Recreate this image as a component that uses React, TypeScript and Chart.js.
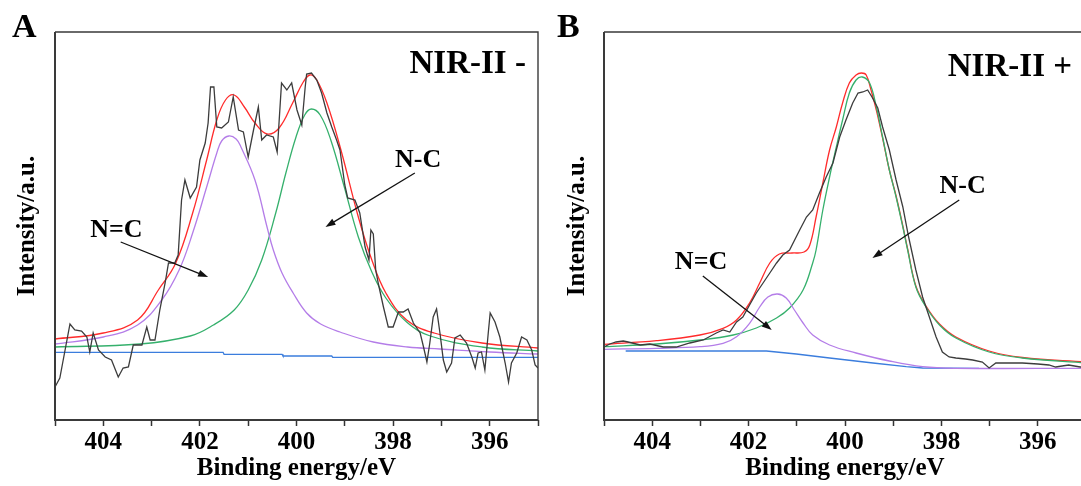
import React, { useEffect, useRef } from 'react';
import { Chart, registerables } from 'chart.js';

Chart.register(...registerables);

const FONT = "'Liberation Serif', 'Times New Roman', serif";

// ---------- Axis ----------
const X_MIN = 395;
const X_MAX = 405;
const Y_MIN = 0;
const Y_MAX = 388;
const X_TITLE = 'Binding energy/eV';
const Y_TITLE = 'Intensity/a.u.';
const TICK_LABELS = [404, 402, 400, 398, 396];

// ---------- Panel A : NIR-II - ----------
const A_RAW_E = [405.0, 404.9, 404.83, 404.69, 404.59, 404.45, 404.34, 404.28, 404.21, 404.1, 403.96, 403.83, 403.69, 403.59, 403.48, 403.38, 403.2, 403.1, 403.03, 402.93, 402.83, 402.72, 402.65, 402.52, 402.45, 402.38, 402.31, 402.2, 402.07, 402.0, 401.89, 401.83, 401.78, 401.71, 401.65, 401.55, 401.41, 401.31, 401.2, 401.1, 401.0, 400.89, 400.79, 400.72, 400.62, 400.48, 400.4, 400.31, 400.2, 400.1, 399.99, 399.89, 399.82, 399.79, 399.69, 399.58, 399.48, 399.37, 399.27, 399.17, 399.1, 399.0, 398.94, 398.79, 398.69, 398.58, 398.5, 398.46, 398.41, 398.36, 398.3, 398.2, 398.1, 398.0, 397.89, 397.79, 397.69, 397.58, 397.44, 397.37, 397.3, 397.24, 397.17, 397.1, 397.03, 396.96, 396.89, 396.79, 396.72, 396.61, 396.48, 396.37, 396.3, 396.24, 396.17, 396.1, 396.03, 395.99, 395.89, 395.79, 395.68, 395.61, 395.55, 395.44, 395.34, 395.23, 395.13, 395.06, 395.0];
const A_RAW_I = [33, 42, 60, 96, 90, 89, 83, 68, 87, 70, 63, 60, 43, 52, 53, 75, 75, 93, 80, 80, 110, 137, 157, 157, 165, 220, 240, 222, 233, 260, 277, 297, 333, 333, 293, 292, 298, 323, 290, 288, 263, 290, 313, 280, 285, 283, 268, 337, 330, 337, 310, 295, 333, 346, 347, 340, 327, 307, 293, 280, 270, 235, 222, 220, 207, 173, 160, 190, 186, 150, 135, 113, 93, 93, 108, 108, 111, 97, 87, 73, 58, 77, 103, 111, 87, 60, 48, 57, 82, 85, 77, 63, 52, 67, 68, 50, 87, 107, 98, 83, 57, 38, 57, 67, 83, 80, 70, 55, 52];

const A_ENV_E = [405, 404, 403.29, 402.86, 402.5, 402.15, 401.86, 401.65, 401.47, 401.29, 401.08, 400.86, 400.61, 400.36, 400.08, 399.86, 399.72, 399.58, 399.37, 399.08, 398.72, 398.44, 398.15, 397.72, 397.15, 396.16, 395];
const A_ENV_I = [81, 87, 100, 130, 157, 207, 260, 300, 320, 325, 313, 297, 286, 292, 317, 338, 345, 340, 317, 270, 203, 160, 127, 100, 87, 77, 72];

const A_NEQC_E = [405, 404, 403.29, 402.79, 402.43, 402.15, 401.86, 401.65, 401.55, 401.4, 401.25, 401.15, 400.86, 400.61, 400.48, 400.3, 400.07, 399.79, 399.5, 399.1, 398.41, 397.7, 397.03, 396, 395];
const A_NEQC_I = [76, 83, 95, 120, 150, 187, 233, 267, 279, 284, 281, 273, 240, 193, 170, 147, 127, 107, 96, 88, 78, 73, 71, 68, 66];

const A_NC_E = [405, 403.24, 402.2, 401.72, 401.29, 401.0, 400.72, 400.43, 400.22, 400.01, 399.83, 399.69, 399.51, 399.29, 399.01, 398.72, 398.44, 398.15, 397.72, 397.23, 396.16, 395];
const A_NC_I = [73, 76, 84, 95, 110, 130, 160, 207, 247, 283, 305, 311, 305, 280, 233, 183, 148, 122, 98, 84, 73, 69];

const A_BASE_E = [405, 401.52, 401.5, 400.3, 400.28, 399.27, 399.25, 395];
const A_BASE_I = [67.7, 67.7, 65.7, 65.7, 64, 64, 62.7, 62.7];

// ---------- Panel B : NIR-II + ----------
const B_RAW_E = [405.0, 404.88, 404.75, 404.6, 404.5, 404.25, 404.05, 403.77, 403.5, 403.22, 402.94, 402.67, 402.53, 402.39, 402.25, 402.12, 401.98, 401.84, 401.7, 401.56, 401.42, 401.29, 401.15, 400.94, 400.8, 400.67, 400.53, 400.39, 400.25, 400.11, 399.98, 399.84, 399.73, 399.63, 399.53, 399.44, 399.32, 399.22, 399.08, 398.94, 398.8, 398.68, 398.53, 398.39, 398.25, 398.11, 397.98, 397.84, 397.7, 397.5, 397.35, 397.15, 397.01, 396.87, 396.6, 396.32, 396.0, 395.77, 395.63, 395.36, 395.12, 395.0];
const B_RAW_I = [73, 76, 78, 79, 78, 75, 76, 73, 73, 77, 80, 87, 90, 88, 98, 103, 115, 127, 137, 147, 157, 165, 170, 190, 203, 210, 227, 243, 257, 283, 300, 317, 327, 328, 330, 323, 312, 293, 270, 240, 213, 183, 150, 123, 103, 83, 68, 63, 62, 61, 60, 58, 52, 57, 57, 57, 56, 55, 53, 55, 53, 53];

const B_ENV_E = [405, 403.91, 403.01, 402.53, 402.25, 401.98, 401.77, 401.56, 401.36, 401.1, 400.85, 400.73, 400.6, 400.46, 400.32, 400.18, 400.05, 399.91, 399.77, 399.66, 399.56, 399.46, 399.35, 399.22, 399.08, 398.94, 398.8, 398.7, 398.53, 398.32, 398.04, 397.7, 397.01, 396.32, 395];
const B_ENV_I = [75.7, 79.3, 85, 91.7, 100, 117, 137, 157, 166, 167, 168, 175, 203, 237, 270, 293, 317, 337, 345, 347, 345, 330, 310, 282, 250, 224, 194, 171, 134, 114, 96, 83, 69, 62.5, 58];

const B_NEQC_E = [405, 403.91, 403.01, 402.53, 402.25, 401.98, 401.77, 401.6, 401.4, 401.22, 401.05, 400.87, 400.67, 400.32, 399.77, 399.08, 398.39, 397.7, 395];
const B_NEQC_I = [70.7, 71.7, 73.3, 76.7, 83.3, 96.7, 113, 123, 126, 122, 110, 97, 85, 75, 67, 59, 53.3, 51.7, 51.7];

const B_NC_E = [405, 403.91, 403.01, 402.32, 401.84, 401.42, 401.15, 400.87, 400.67, 400.6, 400.46, 400.32, 400.18, 400.05, 399.91, 399.77, 399.64, 399.49, 399.35, 399.22, 399.08, 398.94, 398.8, 398.7, 398.53, 398.32, 398.04, 397.7, 397.01, 396.32, 395];
const B_NC_I = [73.3, 76, 80, 85, 92, 102, 112, 130, 157, 170, 210, 243, 273, 300, 327, 340, 343, 337, 313, 283, 250, 223, 193, 170, 133, 113, 95, 82, 68, 62, 57];

const B_BASE_E = [404.55, 401.63, 401.01, 400.32, 399.42, 398.73, 398.39, 397.22];
const B_BASE_I = [69, 69, 66, 62, 57, 53.3, 52, 51.7];

// ---------- Colours ----------
const C_RAW = '#3c3c3c';
const C_ENV = '#ff2b2b';
const C_NEQC = '#b47de8';
const C_NC = '#35b06c';
const C_BASE = '#3b7ddd';

const zip = (e: number[], i: number[]) => e.map((v, k) => ({ x: v, y: i[k] }));

type Txt = { text: string; e: number; i: number; size: number; align?: CanvasTextAlign };
type Arr = { e0: number; i0: number; e1: number; i1: number };

const decorPlugin = {
  id: 'decor',
  afterDatasetsDraw(chart: any, _args: any, opts: any) {
    const { ctx, chartArea: ca, scales } = chart;
    const xs = scales.x;
    const ys = scales.y;
    ctx.save();
    ctx.strokeStyle = '#3a3a3a';
    ctx.lineWidth = 1.4;
    ctx.beginPath();
    ctx.moveTo(ca.left, ca.top);
    ctx.lineTo(ca.right, ca.top);
    ctx.lineTo(ca.right, ca.bottom);
    ctx.stroke();
    ctx.lineWidth = 2;
    ctx.beginPath();
    ctx.moveTo(ca.left, ca.top);
    ctx.lineTo(ca.left, ca.bottom);
    ctx.lineTo(ca.right, ca.bottom);
    ctx.stroke();

    ctx.fillStyle = '#000';
    ctx.textBaseline = 'alphabetic';
    (opts.texts as Txt[]).forEach((t) => {
      ctx.font = `bold ${t.size}px ${FONT}`;
      ctx.textAlign = t.align || 'left';
      ctx.fillText(t.text, xs.getPixelForValue(t.e), ys.getPixelForValue(t.i));
    });
    (opts.arrows as Arr[]).forEach((a) => {
      const x0 = xs.getPixelForValue(a.e0);
      const y0 = ys.getPixelForValue(a.i0);
      const x1 = xs.getPixelForValue(a.e1);
      const y1 = ys.getPixelForValue(a.i1);
      const ang = Math.atan2(y1 - y0, x1 - x0);
      const hl = 10;
      const hw = 3.5;
      ctx.strokeStyle = '#111';
      ctx.lineWidth = 1.3;
      ctx.beginPath();
      ctx.moveTo(x0, y0);
      ctx.lineTo(x1 - Math.cos(ang) * hl * 0.8, y1 - Math.sin(ang) * hl * 0.8);
      ctx.stroke();
      ctx.fillStyle = '#111';
      ctx.beginPath();
      ctx.moveTo(x1, y1);
      ctx.lineTo(x1 - Math.cos(ang) * hl - Math.sin(ang) * hw, y1 - Math.sin(ang) * hl + Math.cos(ang) * hw);
      ctx.lineTo(x1 - Math.cos(ang) * hl + Math.sin(ang) * hw, y1 - Math.sin(ang) * hl - Math.cos(ang) * hw);
      ctx.closePath();
      ctx.fill();
    });
    ctx.fillStyle = '#000';
    ctx.textAlign = 'left';
    ctx.font = `bold 34px ${FONT}`;
    ctx.fillText(opts.letter, opts.letterX, 37);
    ctx.restore();
  },
};

type PanelDef = {
  raw: [number[], number[]];
  env: [number[], number[]];
  neqc: [number[], number[]];
  nc: [number[], number[]];
  base: [number[], number[]];
  yAxisWidth: number;
  yTitlePad: number;
  letter: string;
  letterX: number;
  texts: Txt[];
  arrows: Arr[];
};

const PANEL_A: PanelDef = {
  raw: [A_RAW_E, A_RAW_I],
  env: [A_ENV_E, A_ENV_I],
  neqc: [A_NEQC_E, A_NEQC_I],
  nc: [A_NC_E, A_NC_I],
  base: [A_BASE_E, A_BASE_I],
  yAxisWidth: 55,
  yTitlePad: 12.5,
  letter: 'A',
  letterX: 12,
  texts: [
    { text: 'NIR-II -', e: 395.25, i: 347, size: 33, align: 'right' },
    { text: 'N-C', e: 397.96, i: 253, size: 26 },
    { text: 'N=C', e: 404.27, i: 183, size: 26 },
  ],
  arrows: [
    { e0: 403.64, i0: 178, e1: 401.83, i1: 143 },
    { e0: 397.55, i0: 247, e1: 399.4, i1: 193 },
  ],
};

const PANEL_B: PanelDef = {
  raw: [B_RAW_E, B_RAW_I],
  env: [B_ENV_E, B_ENV_I],
  neqc: [B_NEQC_E, B_NEQC_I],
  nc: [B_NC_E, B_NC_I],
  base: [B_BASE_E, B_BASE_I],
  yAxisWidth: 64,
  yTitlePad: 22.5,
  letter: 'B',
  letterX: 17,
  texts: [
    { text: 'NIR-II +', e: 395.29, i: 344, size: 33, align: 'right' },
    { text: 'N-C', e: 398.04, i: 227, size: 26 },
    { text: 'N=C', e: 403.53, i: 151, size: 26 },
  ],
  arrows: [
    { e0: 402.95, i0: 144, e1: 401.52, i1: 90 },
    { e0: 397.63, i0: 220, e1: 399.43, i1: 162 },
  ],
};

function lineDs(label: string, pts: [number[], number[]], color: string, tension: number) {
  return {
    label,
    data: zip(pts[0], pts[1]),
    borderColor: color,
    backgroundColor: color,
    borderWidth: 1.3,
    pointRadius: 0,
    fill: false,
    tension,
  };
}

function buildConfig(p: PanelDef): any {
  return {
    type: 'line',
    data: {
      datasets: [
        lineDs('Raw', p.raw, C_RAW, 0),
        lineDs('N=C', p.neqc, C_NEQC, 0.4),
        lineDs('Background', p.base, C_BASE, 0),
        lineDs('N-C', p.nc, C_NC, 0.4),
        lineDs('Envelope', p.env, C_ENV, 0.4),
      ],
    },
    options: {
      responsive: false,
      devicePixelRatio: 1,
      animation: false,
      events: [],
      layout: { padding: { left: 0, right: 2, top: 32, bottom: 0 } },
      plugins: {
        legend: { display: false },
        tooltip: { enabled: false },
        decor: { texts: p.texts, arrows: p.arrows, letter: p.letter, letterX: p.letterX },
      },
      scales: {
        x: {
          type: 'linear',
          reverse: true,
          min: X_MIN,
          max: X_MAX,
          afterFit: (s: any) => {
            s.height = 66;
          },
          ticks: {
            stepSize: 1,
            autoSkip: false,
            maxRotation: 0,
            padding: 2,
            color: '#000',
            font: { family: FONT, weight: 'bold', size: 25 },
            callback: (v: number) => (TICK_LABELS.includes(Math.round(v)) ? String(Math.round(v)) : ''),
          },
          grid: {
            display: true,
            drawOnChartArea: false,
            drawTicks: true,
            tickLength: 6,
            tickWidth: 1.5,
            tickColor: '#333',
            color: '#333',
          },
          border: { display: false },
          title: {
            display: true,
            text: X_TITLE,
            color: '#000',
            font: { family: FONT, weight: 'bold', size: 25 },
            padding: { top: 0, bottom: 2 },
          },
        },
        y: {
          type: 'linear',
          min: Y_MIN,
          max: Y_MAX,
          afterFit: (s: any) => {
            s.width = p.yAxisWidth;
          },
          ticks: { display: false },
          grid: { display: false },
          border: { display: false },
          title: {
            display: true,
            text: Y_TITLE,
            color: '#000',
            font: { family: FONT, weight: 'bold', size: 25 },
            padding: { top: p.yTitlePad, bottom: 0 },
          },
        },
      },
    },
    plugins: [decorPlugin],
  };
}

function Panel({ def, left, width }: { def: PanelDef; left: number; width: number }) {
  const ref = useRef<HTMLCanvasElement>(null);
  useEffect(() => {
    const chart = new Chart(ref.current as HTMLCanvasElement, buildConfig(def));
    return () => chart.destroy();
  }, [def]);
  return (
    <canvas
      ref={ref}
      width={width}
      height={486}
      style={{ position: 'absolute', left, top: 0, width, height: 486, display: 'block' }}
    />
  );
}

export default function App() {
  return (
    <div
      style={{
        position: 'fixed',
        left: 0,
        top: 0,
        width: 1081,
        height: 486,
        overflow: 'hidden',
        background: '#fff',
      }}
    >
      <Panel def={PANEL_A} left={0} width={540} />
      <Panel def={PANEL_B} left={540} width={548} />
    </div>
  );
}
